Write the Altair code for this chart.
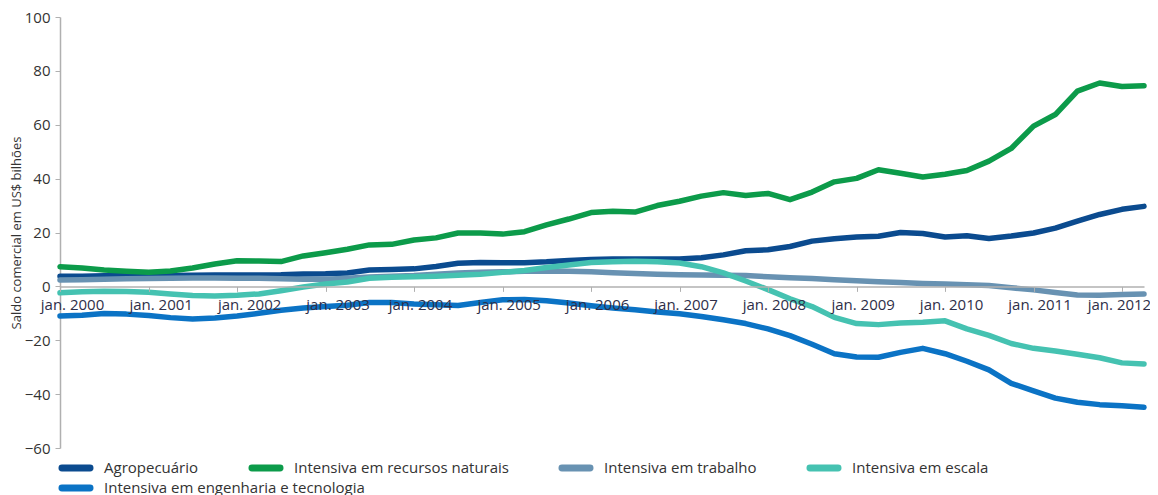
import altair as alt
import pandas as pd

series_names = [
    "Agropecuário",
    "Intensiva em recursos naturais",
    "Intensiva em trabalho",
    "Intensiva em escala",
    "Intensiva em engenharia e tecnologia",
]
series_colors = ["#0b4b8f", "#0c9b4a", "#6892b2", "#45c2b1", "#0b73c5"]

# quarterly readings, Jan 2000 .. Apr 2012
quarters = pd.date_range("2000-01-01", periods=50, freq="QS")

agro = [3.8, 3.8, 3.9, 4.0, 4.0, 4.0, 4.1, 4.2, 4.2, 4.2,
        4.3, 4.6, 4.7, 5.0, 6.1, 6.3, 6.5, 7.4, 8.6, 8.9,
        8.8, 8.8, 9.1, 9.6, 10.0, 10.2, 10.2, 10.2, 10.2, 10.6,
        11.7, 13.2, 13.6, 14.8, 16.8, 17.7, 18.3, 18.6, 20.0, 19.6,
        18.3, 18.8, 17.8, 18.7, 19.8, 21.6, 24.2, 26.7, 28.6, 29.7]

recursos = [7.3, 6.8, 6.1, 5.6, 5.2, 5.7, 6.8, 8.3, 9.5, 9.4,
            9.2, 11.3, 12.5, 13.8, 15.4, 15.6, 17.2, 18.0, 19.8, 19.8,
            19.4, 20.3, 22.8, 25.0, 27.4, 27.9, 27.6, 30.0, 31.6, 33.5,
            34.8, 33.7, 34.5, 32.2, 35.0, 38.8, 40.1, 43.3, 42.0, 40.6,
            41.6, 43.0, 46.5, 51.2, 59.5, 63.8, 72.5, 75.5, 74.2, 74.5]

trabalho = [2.4, 2.5, 2.6, 2.8, 2.9, 3.0, 3.1, 3.1, 3.0, 3.0,
            2.8, 2.6, 2.6, 3.0, 3.5, 3.8, 4.0, 4.5, 5.0, 5.2,
            5.4, 5.6, 5.7, 5.6, 5.4, 5.1, 4.8, 4.5, 4.3, 4.2,
            4.1, 4.0, 3.6, 3.2, 2.9, 2.5, 2.1, 1.7, 1.4, 1.1,
            0.9, 0.6, 0.3, -0.5, -1.3, -2.3, -3.2, -3.3, -3.0, -2.8]

escala = [-2.4, -2.0, -1.8, -1.9, -2.2, -2.8, -3.4, -3.6, -3.3, -2.8,
          -1.6, -0.2, 0.9, 1.6, 3.0, 3.4, 3.6, 3.8, 4.1, 4.5,
          5.2, 5.9, 7.0, 7.9, 8.9, 9.1, 9.3, 9.1, 8.7, 7.3,
          5.0, 2.0, -1.2, -4.6, -7.5, -11.5, -13.8, -14.2, -13.6, -13.3,
          -12.8, -15.8, -18.2, -21.2, -23.0, -24.0, -25.2, -26.5, -28.4, -28.8]

engenharia = [-11.0, -10.7, -10.1, -10.3, -10.8, -11.6, -12.1, -11.7, -11.0, -10.0,
              -8.9, -8.0, -7.5, -7.0, -6.0, -6.0, -6.5, -6.8, -7.1, -6.0,
              -5.0, -4.9, -5.3, -6.2, -7.2, -8.0, -8.7, -9.5, -10.2, -11.2,
              -12.4, -13.8, -15.8, -18.3, -21.5, -25.0, -26.2, -26.3, -24.5, -23.0,
              -25.0, -27.8, -31.0, -36.0, -38.8, -41.5, -43.0, -43.9, -44.3, -44.9]

year_ticks = [alt.DateTime(year=y, month=1, date=1) for y in range(2000, 2013)]

rows = []
for name, vals in zip(series_names, [agro, recursos, trabalho, escala, engenharia]):
    for d, v in zip(quarters, vals):
        rows.append({"data": d.strftime("%Y-%m-%d"), "serie": name, "valor": v})
df = pd.DataFrame(rows)

H = 431
zero_offset = -H * 60 / 160
FONT = "Open Sans"

pill = "M-0.85,-0.06 L0.85,-0.06 A0.06,0.06 0 0 1 0.85,0.06 L-0.85,0.06 A0.06,0.06 0 0 1 -0.85,-0.06 Z"

x_enc = alt.X(
    "data:T",
    scale=alt.Scale(domain=[alt.DateTime(year=2000, month=1, date=1),
                            alt.DateTime(year=2012, month=4, date=1)]),
    axis=alt.Axis(
        title=None,
        values=year_ticks,
        labelExpr="'jan. ' + timeFormat(datum.value, '%Y')",
        offset=zero_offset,
        domainColor="#b0b0b0",
        domainWidth=1.5,
        tickColor="#b0b0b0",
        tickSize=5,
        labelPadding=6,
        labelFont=FONT,
        labelFontSize=15,
        labelColor="#2e2e48",
        labelOffset={
            "condition": [
                {"test": "year(datum.value) <= 2003", "value": 12},
                {"test": "year(datum.value) == 2012", "value": -3},
            ],
            "value": 6,
        },
        labelOverlap=False,
        labelFlush=False,
        grid=False,
        zindex=1,
    ),
)

y_enc = alt.Y(
    "valor:Q",
    scale=alt.Scale(domain=[-60, 100], nice=False, zero=False),
    axis=alt.Axis(
        title="Saldo comercial em US$ bilhões",
        values=[-60, -40, -20, 0, 20, 40, 60, 80, 100],
        domainColor="#b0b0b0",
        domainWidth=1.5,
        tickColor="#b0b0b0",
        tickSize=5,
        labelPadding=5,
        labelFont=FONT,
        labelFontSize=15,
        labelColor="#333333",
        titleFont=FONT,
        titleFontSize=13,
        titleFontWeight="normal",
        titleColor="#333333",
        titlePadding=1,
        grid=False,
    ),
)


def legend_for(row_y):
    return alt.Legend(
        title=None,
        orient="none",
        legendX=-3,
        legendY=row_y,
        direction="horizontal",
        columnPadding=41,
        symbolType=pill,
        symbolSize=1089,
        symbolStrokeWidth=5,
        labelOffset=9,
        labelFont=FONT,
        labelFontSize=15,
        labelColor="#333333",
        labelLimit=400,
    )


base = alt.Chart(df).mark_line(strokeWidth=5.5, strokeCap="round", strokeJoin="round")

first_four = series_names[:4]
layer_a = base.transform_filter(
    alt.FieldOneOfPredicate(field="serie", oneOf=first_four)
).encode(
    x=x_enc,
    y=y_enc,
    color=alt.Color(
        "serie:N",
        scale=alt.Scale(domain=first_four, range=series_colors[:4]),
        sort=first_four,
        legend=legend_for(H + 1),
    ),
)

layer_b = base.transform_filter(
    alt.FieldOneOfPredicate(field="serie", oneOf=series_names[4:])
).encode(
    x=x_enc,
    y=y_enc,
    color=alt.Color(
        "serie:N",
        scale=alt.Scale(domain=series_names[4:], range=series_colors[4:]),
        legend=legend_for(H + 21),
    ),
)

chart = alt.layer(layer_a, layer_b).resolve_scale(
    color="independent"
).resolve_legend(
    color="independent"
).properties(
    width=1142,
    height=H,
    padding={"left": 2, "top": 2, "right": 0, "bottom": 60},
    autosize=alt.AutoSizeParams(type="fit-x", contains="padding"),
).configure_view(stroke=None)

chart.save("out.html", embed_options={"renderer": "svg", "actions": False})
